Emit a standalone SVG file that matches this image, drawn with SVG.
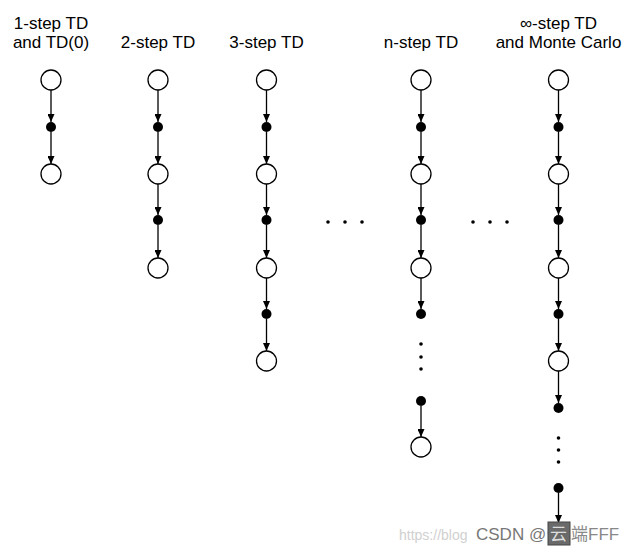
<svg xmlns="http://www.w3.org/2000/svg" width="632" height="553" viewBox="0 0 632 553">
<style>
.t{font-family:"Liberation Sans",Arial,sans-serif;font-size:17px;fill:#000;text-anchor:middle}
.s{fill:#fff;stroke:#000;stroke-width:1.3}
.a{fill:#000}
.e{fill:#000}
.c{stroke:#000;stroke-width:1.3;fill:none;marker-end:url(#ah)}
.wm{font-family:"Liberation Sans","Noto Sans CJK SC",sans-serif;font-size:17px}
.url{font-family:"Liberation Sans",sans-serif;font-size:14px;fill:#d0d0d0}
</style>
<defs>
<marker id="ah" markerUnits="userSpaceOnUse" markerWidth="8" markerHeight="7" refX="8" refY="3.5" orient="auto">
<path d="M0,0 L8,3.5 L0,7 z" fill="#000"/>
</marker>
</defs>
<rect width="632" height="553" fill="#fff"/>
<g id="titles">
<text class="t" x="51" y="29">1-step TD</text>
<text class="t" x="51" y="48">and TD(0)</text>
<text class="t" x="158" y="48">2-step TD</text>
<text class="t" x="266.5" y="48">3-step TD</text>
<text class="t" x="421" y="48">n-step TD</text>
<text class="t" x="558.5" y="29">∞-step TD</text>
<text class="t" x="558.5" y="48">and Monte Carlo</text>
</g>
<g id="connectors">
<path class="c" d="M51,90 V122"/><path class="c" d="M51,132 V164"/>
<path class="c" d="M158,90 V122"/><path class="c" d="M158,132 V164"/>
<path class="c" d="M158,184 V215"/><path class="c" d="M158,225 V258"/>
<path class="c" d="M266.5,90 V122"/><path class="c" d="M266.5,132 V164"/>
<path class="c" d="M266.5,184 V215"/><path class="c" d="M266.5,225 V258"/>
<path class="c" d="M266.5,278 V309"/><path class="c" d="M266.5,319 V351"/>
<path class="c" d="M421,90 V122"/><path class="c" d="M421,132 V164"/>
<path class="c" d="M421,184 V215"/><path class="c" d="M421,225 V258"/>
<path class="c" d="M421,278 V309"/>
<path class="c" d="M421,406 V437"/>
<path class="c" d="M558.5,90 V122"/><path class="c" d="M558.5,132 V164"/>
<path class="c" d="M558.5,184 V215"/><path class="c" d="M558.5,225 V258"/>
<path class="c" d="M558.5,278 V309"/><path class="c" d="M558.5,319 V351"/>
<path class="c" d="M558.5,371 V403"/>
<path class="c" d="M558.5,493 V523"/>
</g>
<g id="col1">
<g id="c1s0"><circle class="s" cx="51" cy="80" r="10"/></g>
<g id="c1a0"><circle class="a" cx="51" cy="127" r="5"/></g>
<g id="c1s1"><circle class="s" cx="51" cy="174" r="10"/></g>
</g>
<g id="col2">
<g id="c2s0"><circle class="s" cx="158" cy="80" r="10"/></g>
<g id="c2a0"><circle class="a" cx="158" cy="127" r="5"/></g>
<g id="c2s1"><circle class="s" cx="158" cy="174" r="10"/></g>
<g id="c2a1"><circle class="a" cx="158" cy="220" r="5"/></g>
<g id="c2s2"><circle class="s" cx="158" cy="268" r="10"/></g>
</g>
<g id="col3">
<g id="c3s0"><circle class="s" cx="266.5" cy="80" r="10"/></g>
<g id="c3a0"><circle class="a" cx="266.5" cy="127" r="5"/></g>
<g id="c3s1"><circle class="s" cx="266.5" cy="174" r="10"/></g>
<g id="c3a1"><circle class="a" cx="266.5" cy="220" r="5"/></g>
<g id="c3s2"><circle class="s" cx="266.5" cy="268" r="10"/></g>
<g id="c3a2"><circle class="a" cx="266.5" cy="314" r="5"/></g>
<g id="c3s3"><circle class="s" cx="266.5" cy="361" r="10"/></g>
</g>
<g id="col4">
<g id="c4s0"><circle class="s" cx="421" cy="80" r="10"/></g>
<g id="c4a0"><circle class="a" cx="421" cy="127" r="5"/></g>
<g id="c4s1"><circle class="s" cx="421" cy="174" r="10"/></g>
<g id="c4a1"><circle class="a" cx="421" cy="220" r="5"/></g>
<g id="c4s2"><circle class="s" cx="421" cy="268" r="10"/></g>
<g id="c4a2"><circle class="a" cx="421" cy="314" r="5"/></g>
<g id="c4dots"><circle class="e" cx="421" cy="344" r="1.8"/><circle class="e" cx="421" cy="357" r="1.8"/><circle class="e" cx="421" cy="369" r="1.8"/></g>
<g id="c4a3"><circle class="a" cx="421" cy="401" r="5"/></g>
<g id="c4s3"><circle class="s" cx="421" cy="447" r="10"/></g>
</g>
<g id="col5">
<g id="c5s0"><circle class="s" cx="558.5" cy="80" r="10"/></g>
<g id="c5a0"><circle class="a" cx="558.5" cy="127" r="5"/></g>
<g id="c5s1"><circle class="s" cx="558.5" cy="174" r="10"/></g>
<g id="c5a1"><circle class="a" cx="558.5" cy="220" r="5"/></g>
<g id="c5s2"><circle class="s" cx="558.5" cy="268" r="10"/></g>
<g id="c5a2"><circle class="a" cx="558.5" cy="314" r="5"/></g>
<g id="c5s3"><circle class="s" cx="558.5" cy="361" r="10"/></g>
<g id="c5a3"><circle class="a" cx="558.5" cy="408" r="5"/></g>
<g id="c5dots"><circle class="e" cx="558.5" cy="438" r="1.8"/><circle class="e" cx="558.5" cy="450" r="1.8"/><circle class="e" cx="558.5" cy="462" r="1.8"/></g>
<g id="c5a4"><circle class="a" cx="558.5" cy="488" r="5"/></g>
<g id="c5s4"><circle class="s" cx="558.5" cy="533" r="10"/></g>
</g>
<g id="hdots">
<circle class="e" cx="328" cy="222" r="1.8"/><circle class="e" cx="345" cy="222" r="1.8"/><circle class="e" cx="362" cy="222" r="1.8"/>
<circle class="e" cx="473" cy="222" r="1.8"/><circle class="e" cx="490" cy="222" r="1.8"/><circle class="e" cx="507" cy="222" r="1.8"/>
</g>
<g id="watermark">
<text class="url" x="399" y="540">https://blog</text>
<rect x="548" y="522" width="22" height="23" fill="#6a6a6a" stroke="#444" stroke-width="1"/>
<text class="wm" x="476" y="540" fill="#777">CSDN</text>
<text class="wm" x="529" y="540" fill="#777">@</text>
<text class="wm" x="550" y="540" fill="#ddd">云</text>
<text class="wm" x="571" y="540" fill="#888">端FFF</text>
</g>
</svg>
